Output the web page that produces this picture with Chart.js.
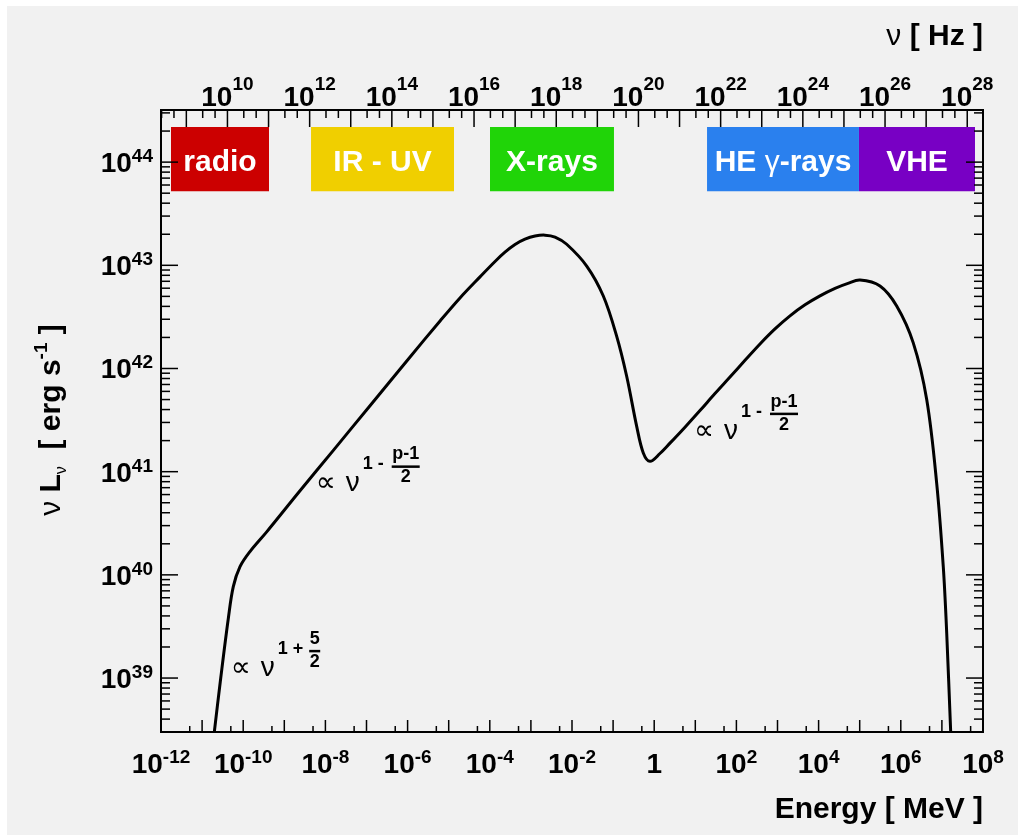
<!DOCTYPE html>
<html>
<head>
<meta charset="utf-8">
<script src="https://cdn.jsdelivr.net/npm/chart.js@4.4.0/dist/chart.umd.min.js"></script>
<style>
  html, body { margin: 0; padding: 0; background: #fff; }
  canvas { display: block; }
</style>
</head>
<body>
<canvas id="sed" width="1018" height="835"></canvas>
<script>
// conversion between the two x axes
const HZ_PER_MEV = 2.418e20;

// SED curve
const energyMeV = [1.58e-11, 1.98e-11, 2.84e-11, 4.35e-11, 5.74e-11, 8.36e-11, 1.46e-10, 3.73e-10,
    2.41e-9, 1.56e-8, 1.26e-7, 1.0e-6, 6.31e-6, 1.88e-5, 5.78e-5, 1.34e-4, 2.34e-4, 4.10e-4,
    7.18e-4, 1.26e-3, 2.20e-3, 3.86e-3, 7.43e-3, 2.28e-2, 5.78e-2, 0.122, 0.214, 0.375, 0.543,
    0.79, 1.38, 2.42, 5.61, 13.0, 30.1, 69.8, 162, 375, 869, 2014, 4670, 1.08e4, 2.51e4, 5.19e4, 1.02e5,
    3.12e5, 7.94e5, 2.01e6, 4.27e6, 7.46e6, 1.08e7, 1.31e7, 1.63e7, 1.78e7];
const nuLnu = [1.38e38, 2.99e38, 1.0e39, 3.8e39, 7.69e39, 1.2e40, 1.68e40, 2.61e40,
    6.53e40, 1.61e41, 4.43e41, 1.21e42, 2.92e42, 4.83e42, 7.73e42, 1.09e43, 1.34e43, 1.59e43,
    1.79e43, 1.92e43, 1.96e43, 1.88e43, 1.6e43, 9.84e42, 5.04e42, 2.06e42, 8.41e41, 2.75e41, 1.52e41,
    1.26e41, 1.50e41, 1.89e41, 2.70e41, 3.91e41, 5.72e41, 8.26e41, 1.20e42, 1.73e42, 2.42e42, 3.24e42,
    4.14e42, 5.06e42, 5.98e42, 6.69e42, 7.19e42,
    6.3e42, 4.03e42, 1.77e42, 5.0e41, 7.76e40, 1.2e40, 2.72e39, 3.13e38, 1.41e38];

// waveband boxes
const bandNames = ['radio', 'IR - UV', 'X-rays', 'HE γ-rays', 'VHE'];
const bandLow = [1.75e-12, 4.47e-9, 1.01e-4, 19.3, 9.6e4];
const bandHigh = [4.25e-10, 1.35e-5, 0.105, 9.6e4, 6.4e7];
const bandColors = ['#cc0000', '#f0cf00', '#20d408', '#2a80ee', '#7800c4'];
const bandTop = 2.19e44;
const bandBottom = 5.22e43;

// power-law annotations (left end of "∝", baseline)
const annotE = [5.25e-11, 6.14e-9, 9.84];
const annotL = [1.05e39, 6.44e40, 2.09e41];
const annotOp = ['+', '-', '-'];
const annotNum = ['5', 'p-1', 'p-1'];
const annotDen = ['2', '2', '2'];

// axis ranges and tick labels
const eMin = 1e-12, eMax = 1e8;
const lMin = 3e38, lMax = 3.2e44;
const energyLabelExp = [-12, -10, -8, -6, -4, -2, 0, 2, 4, 6, 8];
const freqLabelExp = [10, 12, 14, 16, 18, 20, 22, 24, 26, 28];
const lumLabelExp = [39, 40, 41, 42, 43, 44];

const FONT = "'Liberation Sans', Arial, 'DejaVu Sans', sans-serif";
const bold = s => `bold ${s}px ${FONT}`;
const reg = s => `${s}px ${FONT}`;

function drawRuns(ctx, runs, x, y, align) {
    let w = 0;
    runs.forEach(r => { ctx.font = r.font; w += ctx.measureText(r.text).width; });
    let cx = align === 'center' ? x - w / 2 : align === 'right' ? x - w : x;
    ctx.textAlign = 'left';
    runs.forEach(r => {
        ctx.font = r.font;
        ctx.fillText(r.text, cx, y - (r.rise || 0));
        cx += ctx.measureText(r.text).width;
    });
}

function powerLabel(exp, rise) {
    if (exp === 0) return [{ text: '1', font: bold(28) }];
    return [{ text: '10', font: bold(28) }, { text: String(exp), font: bold(19), rise: rise }];
}

function drawPowerLaw(ctx, x, y, op, num, den) {
    ctx.fillStyle = '#000';
    ctx.textBaseline = 'alphabetic';
    ctx.textAlign = 'left';
    ctx.font = reg(28);
    ctx.fillText('∝', x - 1, y);
    ctx.fillText('ν', x + 29, y);
    ctx.font = bold(18);
    ctx.fillText('1', x + 46, y - 22);
    ctx.fillText(op, x + 61, y - 22);
    const fx = x + (num.length > 1 ? 89 : 83);
    ctx.textAlign = 'center';
    ctx.fillText(num, fx, y - 32);
    ctx.fillText(den, fx, y - 9);
    const bw = ctx.measureText(num).width + 1;
    ctx.fillRect(fx - bw / 2, y - 26, bw, 2.5);
}

const decorations = {
    id: 'decorations',
    beforeDraw(chart) {
        const ctx = chart.ctx;
        ctx.save();
        ctx.fillStyle = '#ffffff';
        ctx.fillRect(0, 0, chart.width, chart.height);
        ctx.fillStyle = '#f1f1f1';
        ctx.fillRect(7, 6, chart.width - 7, chart.height - 6);
        ctx.restore();
    },
    afterDatasetsDraw(chart) {
        const ctx = chart.ctx;
        const xs = chart.scales.x, ys = chart.scales.y;
        ctx.save();
        ctx.fillStyle = '#fff';
        ctx.textBaseline = 'alphabetic';
        const ymid = (ys.getPixelForValue(bandTop) + ys.getPixelForValue(bandBottom)) / 2 + 12;
        bandNames.forEach((name, i) => {
            const xmid = (xs.getPixelForValue(bandLow[i]) + xs.getPixelForValue(bandHigh[i])) / 2;
            const parts = name.split('γ');
            if (parts.length > 1) {
                drawRuns(ctx, [{ text: parts[0], font: bold(30) }, { text: 'γ', font: reg(30) },
                    { text: parts[1], font: bold(30) }], xmid, ymid, 'center');
            } else {
                drawRuns(ctx, [{ text: name, font: bold(30) }], xmid, ymid, 'center');
            }
        });
        annotE.forEach((e, i) => {
            drawPowerLaw(ctx, xs.getPixelForValue(e), ys.getPixelForValue(annotL[i]),
                annotOp[i], annotNum[i], annotDen[i]);
        });
        ctx.restore();
    },
    afterDraw(chart) {
        const ctx = chart.ctx;
        const a = chart.chartArea;
        const xs = chart.scales.x, ys = chart.scales.y, xt = chart.scales.xTop;
        ctx.save();
        ctx.strokeStyle = '#000';
        ctx.fillStyle = '#000';
        ctx.lineWidth = 1.5;
        const line = (x1, y1, x2, y2) => {
            ctx.beginPath(); ctx.moveTo(x1, y1); ctx.lineTo(x2, y2); ctx.stroke();
        };
        // bottom ticks (energy)
        for (let n = -12; n <= 8; n++) {
            const px = xs.getPixelForValue(Math.pow(10, n));
            line(px, a.bottom, px, a.bottom - 12);
            if (n < 8) {
                const p5 = xs.getPixelForValue(5 * Math.pow(10, n));
                line(p5, a.bottom, p5, a.bottom - 6);
            }
        }
        // top ticks (frequency)
        for (let n = 8; n <= 28; n++) {
            [1, 2.5, 5].forEach(m => {
                const v = m * Math.pow(10, n);
                if (v < xt.min || v > xt.max) return;
                const px = xt.getPixelForValue(v);
                line(px, a.top, px, a.top + (m === 1 ? 17 : 8));
            });
        }
        // left / right ticks
        for (let n = 38; n <= 44; n++) {
            for (let m = 1; m <= 9; m++) {
                const v = m * Math.pow(10, n);
                if (v < lMin || v > lMax) continue;
                const py = ys.getPixelForValue(v);
                const len = m === 1 ? 17 : 9;
                line(a.left, py, a.left + len, py);
                line(a.right, py, a.right - len, py);
            }
        }
        // frame
        ctx.lineWidth = 2;
        ctx.strokeRect(a.left, a.top, a.right - a.left, a.bottom - a.top);

        // tick labels
        ctx.textBaseline = 'alphabetic';
        energyLabelExp.forEach(n => {
            drawRuns(ctx, powerLabel(n, 10), xs.getPixelForValue(Math.pow(10, n)), a.bottom + 41, 'center');
        });
        freqLabelExp.forEach(n => {
            drawRuns(ctx, powerLabel(n, 16), xt.getPixelForValue(Math.pow(10, n)), a.top - 4, 'center');
        });
        lumLabelExp.forEach(n => {
            drawRuns(ctx, powerLabel(n, 10), a.left - 8, ys.getPixelForValue(Math.pow(10, n)) + 10, 'right');
        });

        // axis titles
        drawRuns(ctx, [{ text: 'Energy [ MeV ]', font: bold(30) }], a.right, 818, 'right');
        drawRuns(ctx, [{ text: 'ν ', font: reg(30) }, { text: '[ Hz ]', font: bold(30) }], a.right, 45, 'right');
        ctx.save();
        ctx.translate(60, 420);
        ctx.rotate(-Math.PI / 2);
        drawRuns(ctx, [
            { text: 'ν ', font: reg(30) },
            { text: 'L', font: bold(30) },
            { text: 'ν', font: reg(16), rise: -6 },
            { text: '  [ erg s', font: bold(30) },
            { text: '-1', font: bold(19), rise: 13 },
            { text: ' ]', font: bold(30) }
        ], 0, 0, 'center');
        ctx.restore();
        ctx.restore();
    }
};

const bandSets = bandNames.map((name, i) => ({
    label: name,
    data: [{ x: bandLow[i], y: bandTop }, { x: bandHigh[i], y: bandTop }],
    borderWidth: 0,
    pointRadius: 0,
    borderColor: bandColors[i],
    backgroundColor: bandColors[i],
    fill: { value: bandBottom },
    order: 2
}));

new Chart(document.getElementById('sed'), {
    type: 'line',
    data: {
        datasets: [
            ...bandSets,
            {
                label: 'SED',
                data: energyMeV.map((e, i) => ({ x: e, y: nuLnu[i] })),
                borderColor: '#000',
                borderWidth: 3,
                pointRadius: 0,
                fill: false,
                tension: 0.35,
                order: 1
            }
        ]
    },
    options: {
        responsive: false,
        animation: false,
        devicePixelRatio: 1,
        events: [],
        layout: { padding: { left: 161, top: 110, right: 35, bottom: 103 } },
        scales: {
            x: { type: 'logarithmic', min: eMin, max: eMax, display: false },
            xTop: { type: 'logarithmic', position: 'top', axis: 'x',
                min: eMin * HZ_PER_MEV, max: eMax * HZ_PER_MEV, display: false },
            y: { type: 'logarithmic', min: lMin, max: lMax, display: false }
        },
        plugins: {
            legend: { display: false },
            tooltip: { enabled: false }
        }
    },
    plugins: [decorations]
});
</script>
</body>
</html>
